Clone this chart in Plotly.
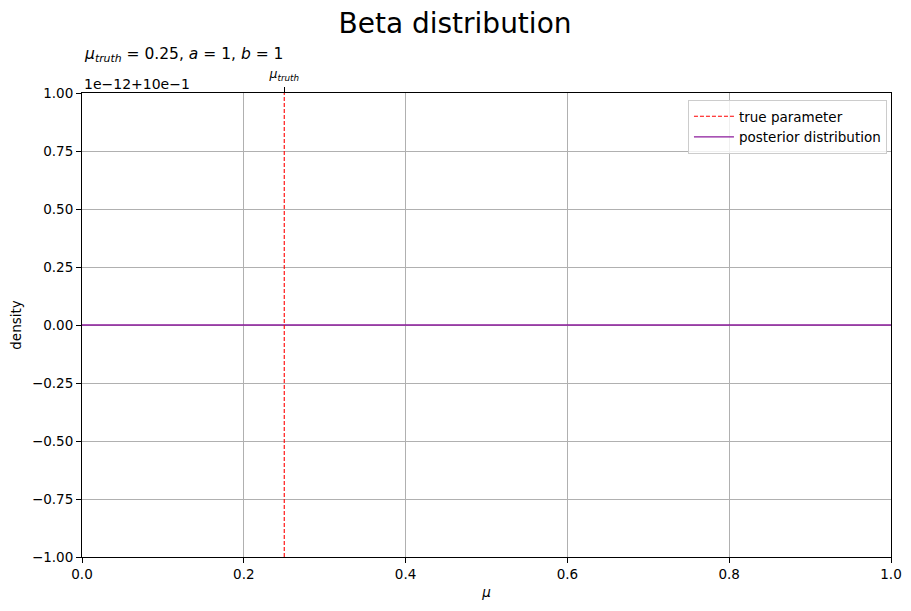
import plotly.graph_objects as go

# valeurs
mu_truth = 0.25
a_param, b_param = 1, 1
mu_grid = [0.0, 0.125, 0.25, 0.375, 0.5, 0.625, 0.75, 0.875, 1.0]
density = [1.0, 1.0, 1.0, 1.0, 1.0, 1.0, 1.0, 1.0, 1.0]
y_offset = 1.0   # affiché comme "1e-12+10e-1"
y_scale = 1e-12
x_ticks = [0.0, 0.2, 0.4, 0.6, 0.8, 1.0]
y_ticks = [-1.0, -0.75, -0.5, -0.25, 0.0, 0.25, 0.5, 0.75, 1.0]

density_shown = [(d - y_offset) / y_scale for d in density]

fig = go.Figure()
fig.add_trace(go.Scatter(
    x=mu_grid, y=density_shown, mode="lines",
    line=dict(color="#8b1a9b", width=1.3),
    name="posterior distribution", legendrank=2,
))
fig.add_trace(go.Scatter(
    x=[mu_truth, mu_truth], y=[y_ticks[0], y_ticks[-1]], mode="lines",
    line=dict(color="red", width=1.1, dash="4px,2px"),
    name="true parameter", legendrank=1,
))
# axe du haut avec la seule graduation mu_truth
fig.add_trace(go.Scatter(x=[mu_truth], y=[0], xaxis="x2", mode="markers",
                         marker=dict(opacity=0), showlegend=False, hoverinfo="skip"))

axis_common = dict(
    showline=True, linecolor="black", linewidth=1, mirror=True,
    ticks="outside", ticklen=5, tickcolor="black", tickwidth=1,
    showgrid=True, gridcolor="#b0b0b0", gridwidth=0.8, zeroline=False,
    tickfont=dict(size=13.5, color="black"), automargin=False,
)

# la page html ajoute 8 px de marge au corps, on compense
fig.update_layout(
    width=903, height=603,
    margin=dict(l=74, r=20, t=85, b=54),
    paper_bgcolor="white", plot_bgcolor="white",
    font=dict(family="DejaVu Sans", color="black"),
    title=dict(text="Beta distribution", x=(455 - 8) / 903, xanchor="center",
               y=1 - 15 / 603, yanchor="middle", font=dict(size=28)),
    xaxis=dict(range=[0, 1], tickvals=x_ticks, ticktext=[f"{v:.1f}" for v in x_ticks],
               title=dict(text="<i>μ</i>", font=dict(size=13.5), standoff=6), **axis_common),
    xaxis2=dict(range=[0, 1], overlaying="x", side="top", tickvals=[mu_truth],
                ticktext=["<i>μ<sub>truth</sub></i>"], ticks="outside", ticklen=5,
                tickcolor="black", showgrid=False, zeroline=False, showline=False,
                automargin=False, ticklabelstandoff=4,
                tickfont=dict(size=12.5, color="black")),
    yaxis=dict(range=[y_ticks[0], y_ticks[-1]], tickvals=y_ticks,
               ticktext=[f"{v:.2f}".replace("-", "−") for v in y_ticks],
               title=dict(text="density", font=dict(size=13.5), standoff=8), **axis_common),
    legend=dict(x=0.995, y=0.985, xanchor="right", yanchor="top",
                bgcolor="rgba(255,255,255,0.8)", bordercolor="#cccccc", borderwidth=1,
                font=dict(size=13.5), tracegroupgap=0, itemwidth=40),
    annotations=[
        dict(text=f"<i>μ<sub>truth</sub></i> = {mu_truth}, <i>a</i> = {a_param}, <i>b</i> = {b_param}",
             xref="paper", yref="paper", x=0, y=1 + 38 / 464, xanchor="left", yanchor="middle",
             showarrow=False, font=dict(size=15.5)),
        dict(text="1e−12+10e−1", xref="paper", yref="paper", x=0, y=1 + 9 / 464,
             xanchor="left", yanchor="middle", showarrow=False, font=dict(size=14)),
    ],
)

fig.write_html("out.html")
